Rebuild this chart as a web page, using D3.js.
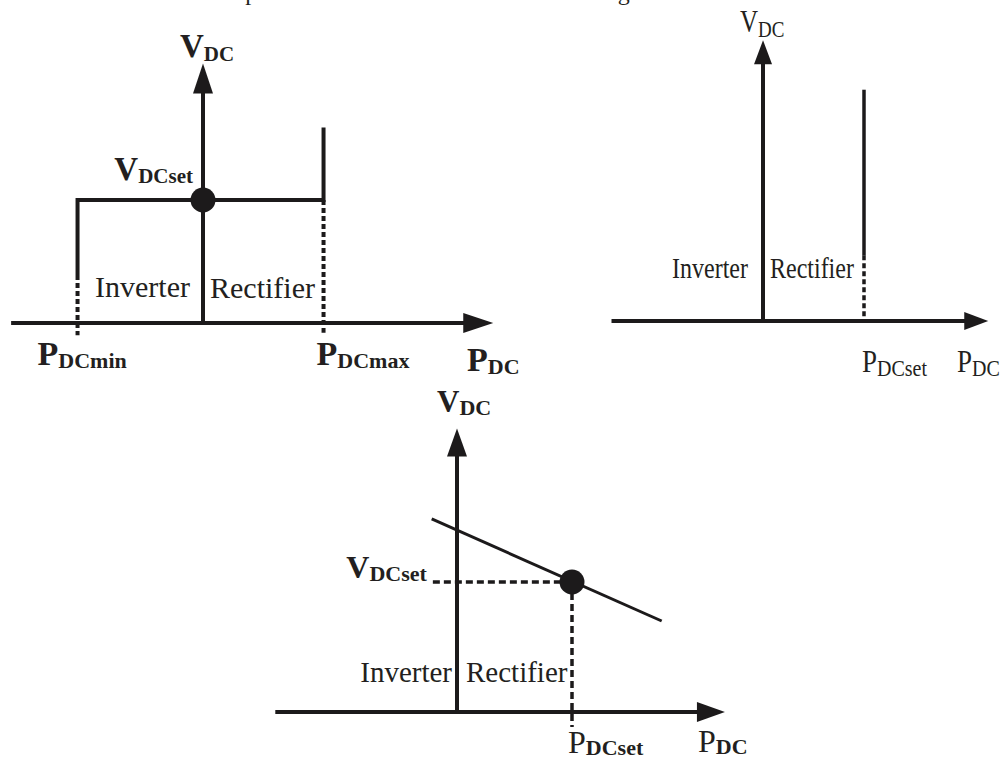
<!DOCTYPE html>
<html>
<head>
<meta charset="utf-8">
<script src="https://cdn.jsdelivr.net/npm/d3@7"></script>
<style>
  body { margin: 0; background: #fff; }
  svg { display: block; }
  text { font-family: "Liberation Serif", "Times New Roman", serif; fill: #231f20; }
</style>
</head>
<body>
<div id="chart"></div>
<script>
// ---- data (per-unit P/V) ----
// Panel A: constant DC voltage control with power limits
const aAxisP = [-1.56, 2.36];
const aAxisV = [0, 2.11];
const aCurve = [[-1.02, 0.39], [-1.02, 1], [0.98, 1], [0.98, 1.59]];
const aGuides = [[[-1.02, 0.39], [-1.02, -0.1]], [[0.98, 1], [0.98, -0.08]]];
const aSetpoint = [0, 1];

// Panel B: constant power control
const bAxisP = [-1.5, 2.23];
const bAxisV = [0, 2.78];
const bCurve = [[1, 2.29], [1, 0.65]];
const bGuides = [[[1, 0.65], [1, 0]]];

// Panel C: droop control
const cAxisP = [-1.58, 2.33];
const cAxisV = [0, 2.18];
const cCurve = [[-0.22, 1.485], [1.78, 0.70]];
const cGuides = [[[-0.21, 1], [1, 1]], [[1, 1], [1, -0.115]]];
const cSetpoint = [1, 1];

// labels
const regionLabels = ["Inverter", "Rectifier"];
const vAxisLabel = ["V", "DC"];
const pAxisLabel = ["P", "DC"];
const vSetLabel = ["V", "DCset"];
const pMinLabel = ["P", "DCmin"];
const pMaxLabel = ["P", "DCmax"];
const pSetLabel = ["P", "DCset"];
const topLine = "The characteristic of each operation mode is shown in the above figure.";

const W = 1003, H = 762;
const ink = "#1c1a1b";

const svg = d3.select("#chart").append("svg")
    .attr("width", W)
    .attr("height", H);

// body text line cut off by the top edge (only descenders show)
svg.append("text")
    .attr("x", -20)
    .attr("y", 0)
    .style("font-size", "24px")
    .text(topLine);

const line = d3.line();

function drawAxes(g, x, y, axisP, axisV, w, arrow) {
    g.append("path")
        .attr("d", line([[x(axisP[0]), y(0)], [x(axisP[1]) - arrow.len + 2, y(0)]]))
        .attr("stroke", ink).attr("stroke-width", w).attr("fill", "none");
    g.append("path")
        .attr("d", line([[x(0), y(0)], [x(0), y(axisV[1]) + arrow.len - 2]]))
        .attr("stroke", ink).attr("stroke-width", w).attr("fill", "none");
    const tx = x(axisP[1]), ty = y(axisV[1]);
    g.append("path")
        .attr("d", `M${tx},${y(0)} L${tx - arrow.len},${y(0) - arrow.half} L${tx - arrow.len},${y(0) + arrow.half} Z`)
        .attr("fill", ink);
    g.append("path")
        .attr("d", `M${x(0)},${ty} L${x(0) - arrow.half},${ty + arrow.len} L${x(0) + arrow.half},${ty + arrow.len} Z`)
        .attr("fill", ink);
}

function drawCurve(g, x, y, pts, w) {
    g.append("path")
        .attr("d", line(pts.map(d => [x(d[0]), y(d[1])])))
        .attr("stroke", ink).attr("stroke-width", w)
        .attr("fill", "none").attr("stroke-linejoin", "miter");
}

function drawGuides(g, x, y, guides, w, dash) {
    g.selectAll(null)
        .data(guides)
        .enter()
        .append("path")
        .attr("d", d => line(d.map(p => [x(p[0]), y(p[1])])))
        .attr("stroke", ink).attr("stroke-width", w)
        .attr("stroke-dasharray", dash).attr("fill", "none");
}

function drawDot(g, x, y, p, r) {
    g.append("circle")
        .attr("cx", x(p[0])).attr("cy", y(p[1])).attr("r", r)
        .attr("fill", ink);
}

// main letter + subscript
function subLabel(g, px, py, lab, o) {
    const t = g.append("g")
        .attr("transform", `translate(${px},${py}) scale(1,${o.sy || 1})`)
        .append("text")
        .attr("text-anchor", o.anchor || "start");
    t.append("tspan")
        .style("font-size", o.main + "px")
        .style("font-weight", o.mainBold ? "bold" : "normal")
        .text(lab[0]);
    t.append("tspan")
        .attr("dy", o.dy)
        .style("font-size", o.sub + "px")
        .style("font-weight", o.subBold ? "bold" : "normal")
        .text(lab[1]);
}

function plainLabel(g, px, py, txt, size, anchor, sy) {
    g.append("g")
        .attr("transform", `translate(${px},${py}) scale(1,${sy || 1})`)
        .append("text")
        .attr("text-anchor", anchor)
        .style("font-size", size + "px")
        .text(txt);
}

// ---- Panel A ----
{
    const g = svg.append("g");
    const x = d3.scaleLinear().domain([0, 1]).range([203, 326]);
    const y = d3.scaleLinear().domain([0, 1]).range([323, 200]);
    drawAxes(g, x, y, aAxisP, aAxisV, 4, { len: 30, half: 10 });
    drawGuides(g, x, y, aGuides, 4, "5,3");
    drawCurve(g, x, y, aCurve, 4);
    drawDot(g, x, y, aSetpoint, 12.5);

    const big = { main: 33, sub: 21, mainBold: true, subBold: true, dy: 4 };
    subLabel(g, x(0) - 23, 57, vAxisLabel, big);
    subLabel(g, x(0) - 10, 180, vSetLabel, Object.assign({}, big, { anchor: "end", dy: 3 }));
    subLabel(g, x(aCurve[0][0]) - 40, 365, pMinLabel, { main: 34, sub: 22, mainBold: true, subBold: true, dy: 3 });
    subLabel(g, x(aCurve[2][0]) - 7, 365, pMaxLabel, { main: 34, sub: 22, mainBold: true, subBold: true, dy: 3 });
    subLabel(g, 467, 371, pAxisLabel, { main: 34, sub: 22, mainBold: true, subBold: true, dy: 3 });
    plainLabel(g, x(0) - 13, 297, regionLabels[0], 30, "end");
    plainLabel(g, x(0) + 7, 298, regionLabels[1], 30, "start");
}

// ---- Panel B ----
{
    const g = svg.append("g");
    const x = d3.scaleLinear().domain([0, 1]).range([763, 864]);
    const y = d3.scaleLinear().domain([0, 1]).range([321, 220]);
    drawAxes(g, x, y, bAxisP, bAxisV, 4, { len: 24, half: 9 });
    drawGuides(g, x, y, bGuides, 3.5, "5,3");
    drawCurve(g, x, y, bCurve, 3.5);

    subLabel(g, 740, 32, vAxisLabel, { main: 25, sub: 19, dy: 4, sy: 1.25 });
    plainLabel(g, x(0) - 15, 278, regionLabels[0], 24, "end", 1.25);
    plainLabel(g, x(0) + 7, 278, regionLabels[1], 24, "start", 1.25);
    subLabel(g, x(bCurve[0][0]) - 2, 372, pSetLabel, { main: 27, sub: 20, dy: 3, sy: 1.2 });
    subLabel(g, 957, 372, pAxisLabel, { main: 27, sub: 20, dy: 3, sy: 1.2 });
}

// ---- Panel C ----
{
    const g = svg.append("g");
    const x = d3.scaleLinear().domain([0, 1]).range([457, 572]);
    const y = d3.scaleLinear().domain([0, 1]).range([712, 582]);
    drawAxes(g, x, y, cAxisP, cAxisV, 4, { len: 28, half: 10 });
    drawGuides(g, x, y, cGuides, 3.5, "7,4");
    drawCurve(g, x, y, cCurve, 3);
    drawDot(g, x, y, cSetpoint, 12.5);

    subLabel(g, x(0) - 20, 412, vAxisLabel, { main: 31, sub: 22, mainBold: true, subBold: true, dy: 3 });
    subLabel(g, x(cGuides[0][0][0]) - 6, 578, vSetLabel, { main: 32, sub: 22, mainBold: true, subBold: true, dy: 3, anchor: "end" });
    plainLabel(g, x(0) - 5, 682, regionLabels[0], 29, "end");
    plainLabel(g, x(0) + 9, 682, regionLabels[1], 29, "start");
    subLabel(g, x(1) - 4, 753, pSetLabel, { main: 32, sub: 22, subBold: true, dy: 2 });
    subLabel(g, 698, 752, pAxisLabel, { main: 32, sub: 22, subBold: true, dy: 2 });
}
</script>
</body>
</html>
